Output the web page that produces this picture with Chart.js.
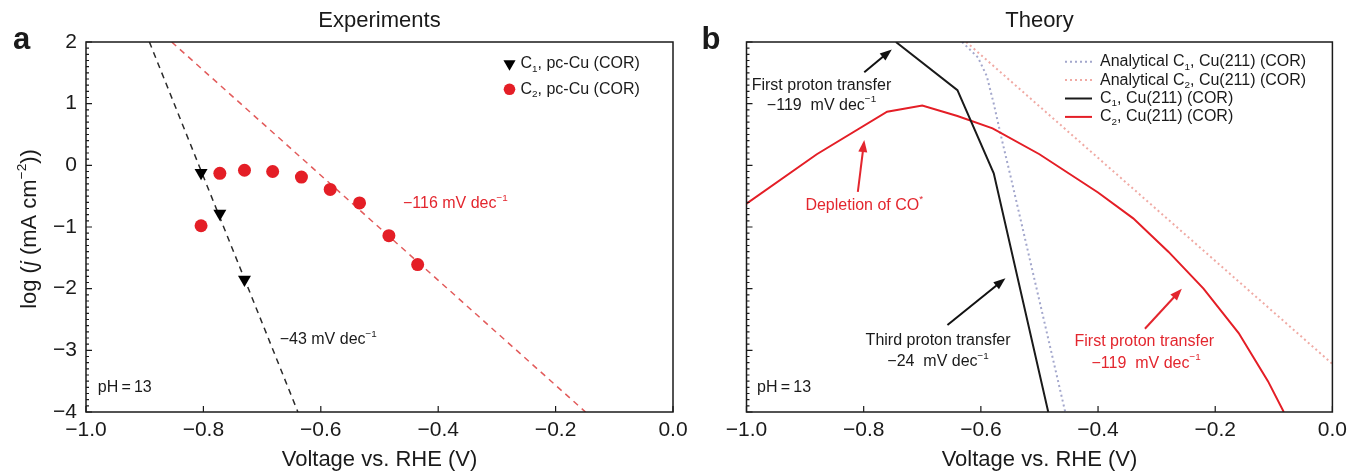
<!DOCTYPE html>
<html><head><meta charset="utf-8">
<script src="https://cdn.jsdelivr.net/npm/chart.js@4.4.1/dist/chart.umd.min.js"></script>
<style>
html,body{margin:0;padding:0;background:#fff;}
#wrap{position:relative;width:1353px;height:473px;overflow:hidden;background:#fff;}
canvas{position:absolute;top:0;}
#ca{left:0;} #cb{left:680px;}
</style></head><body>
<div id="wrap"><canvas id="ca" width="700" height="473"></canvas><canvas id="cb" width="673" height="473"></canvas></div>
<script>
// ---------- data ----------
const xTicks = [-1.0, -0.8, -0.6, -0.4, -0.2, 0.0];
const yTicks = [2, 1, 0, -1, -2, -3, -4];
const yMinorStep = 0.1;

// panel a (experiments)
const expC1V = [-0.804, -0.772, -0.730];
const expC1J = [-0.12, -0.78, -1.85];
const expC2V = [-0.804, -0.772, -0.730, -0.682, -0.633, -0.584, -0.534, -0.484, -0.435];
const expC2J = [-0.98, -0.13, -0.08, -0.10, -0.19, -0.39, -0.61, -1.14, -1.61];
const fitC1V = [-0.892, -0.639];
const fitC1J = [2, -4];
const fitC2V = [-0.854, -0.149];
const fitC2J = [2, -4];

// panel b (theory)
const thC1V = [-0.745, -0.640, -0.578, -0.485];
const thC1J = [2.0, 1.22, -0.13, -4.0];
const thC2V = [-1.0, -0.88, -0.76, -0.70, -0.64, -0.58, -0.50, -0.40, -0.34, -0.28, -0.22, -0.16, -0.11, -0.083];
const thC2J = [-0.62, 0.18, 0.87, 0.97, 0.80, 0.60, 0.18, -0.44, -0.86, -1.40, -2.00, -2.72, -3.50, -4.0];
const anC1V = [-0.632, -0.605, -0.590, -0.578, -0.565, -0.550, -0.456];
const anC1J = [2.0, 1.75, 1.45, 1.0, 0.45, -0.15, -4.0];
const anC2V = [-0.625, 0.0];
const anC2J = [2.0, -3.22];

// ---------- helpers ----------
const FAM = "'Liberation Sans', Arial, Helvetica, sans-serif";
const INK = '#1a1a1a';
const RED = '#e41e26';
const pts = (xs, ys) => xs.map((v, i) => ({x: v, y: ys[i]}));
const fmtX = v => (v < -1e-9 ? '\u2212' : '') + Math.abs(v).toFixed(1);
const fmtY = v => (v < 0 ? '\u2212' : '') + Math.abs(v);

function labelSegs(label) {
  const segs = [];
  let buf = '';
  for (const ch of label) {
    if (ch === '\u2081' || ch === '\u2082') {
      if (buf) segs.push([buf, 'n']);
      buf = '';
      segs.push([ch === '\u2081' ? '1' : '2', 'sub']);
    } else buf += ch;
  }
  if (buf) segs.push([buf, 'n']);
  return segs;
}

function drawRich(ctx, segs, x, y, size, color, align) {
  const parts = segs.map(([t, k]) => {
    const fs = (k === 'sup' || k === 'sub') ? size * 0.62 : size;
    const font = (k === 'i' ? 'italic ' : '') + fs + 'px ' + FAM;
    ctx.font = font;
    return {t, k, font, w: ctx.measureText(t).width};
  });
  const total = parts.reduce((s, p) => s + p.w, 0);
  let cx = align === 'center' ? x - total / 2 : align === 'right' ? x - total : x;
  ctx.fillStyle = color;
  ctx.textBaseline = 'middle';
  ctx.textAlign = 'left';
  for (const p of parts) {
    ctx.font = p.font;
    const dy = p.k === 'sup' ? -size * 0.36 : p.k === 'sub' ? size * 0.32 : 0;
    ctx.fillText(p.t, cx, y + dy);
    cx += p.w;
  }
}

function arrow(ctx, x1, y1, x2, y2, color) {
  const ang = Math.atan2(y2 - y1, x2 - x1), hl = 12, hw = 4.5;
  ctx.strokeStyle = color; ctx.lineWidth = 2;
  ctx.beginPath(); ctx.moveTo(x1, y1);
  ctx.lineTo(x2 - Math.cos(ang) * hl * 0.8, y2 - Math.sin(ang) * hl * 0.8); ctx.stroke();
  ctx.fillStyle = color; ctx.beginPath(); ctx.moveTo(x2, y2);
  ctx.lineTo(x2 - hl * Math.cos(ang) + hw * Math.sin(ang), y2 - hl * Math.sin(ang) - hw * Math.cos(ang));
  ctx.lineTo(x2 - hl * Math.cos(ang) - hw * Math.sin(ang), y2 - hl * Math.sin(ang) + hw * Math.cos(ang));
  ctx.closePath(); ctx.fill();
}

function panelPlugin(cfg) {
  return {
    id: 'panel',
    afterDatasetsDraw(chart) {
      const {ctx, chartArea: a, scales: {x, y}} = chart;
      ctx.save();
      ctx.strokeStyle = INK; ctx.lineWidth = 1.5;
      ctx.strokeRect(a.left, a.top, a.right - a.left, a.bottom - a.top);
      ctx.lineWidth = 1.2;
      ctx.beginPath();
      xTicks.forEach(v => { const px = x.getPixelForValue(v); ctx.moveTo(px, a.bottom); ctx.lineTo(px, a.bottom - 6); });
      const nMinor = Math.round((y.max - y.min) / yMinorStep);
      for (let k = 0; k <= nMinor; k++) {
        const v = y.min + k * yMinorStep;
        const major = k % 10 === 0;
        const py = y.getPixelForValue(v);
        ctx.moveTo(a.left, py); ctx.lineTo(a.left + (major ? 6 : 3), py);
      }
      ctx.stroke();
      cfg.arrows.forEach(ar => arrow(ctx, x.getPixelForValue(ar.from[0]), y.getPixelForValue(ar.from[1]),
        x.getPixelForValue(ar.to[0]), y.getPixelForValue(ar.to[1]), ar.color));
      cfg.notes.forEach(n => drawRich(ctx, n.segs, x.getPixelForValue(n.at[0]), y.getPixelForValue(n.at[1]), n.size || 16, n.color || INK, n.align || 'center'));
      ctx.restore();
    },
    afterDraw(chart) {
      const {ctx, chartArea: a} = chart;
      ctx.save();
      // title
      ctx.fillStyle = INK; ctx.font = '22px ' + FAM; ctx.textAlign = 'center'; ctx.textBaseline = 'middle';
      ctx.fillText(cfg.title, (a.left + a.right) / 2, 20.5);
      // panel letter
      ctx.font = 'bold 31px ' + FAM; ctx.textAlign = 'left'; ctx.textBaseline = 'alphabetic';
      ctx.fillText(cfg.letter, cfg.letterX, 48.5);
      // y title
      if (cfg.yTitle) {
        ctx.save();
        ctx.translate(30, (a.top + a.bottom) / 2 + 2);
        ctx.rotate(-Math.PI / 2);
        drawRich(ctx, cfg.yTitle, 0, 0, 22, INK, 'center');
        ctx.restore();
      }
      // legend
      const ds = chart.data.datasets;
      cfg.legend.items.forEach((idx, i) => {
        const d = ds[idx];
        const ly = cfg.legend.y0 + i * cfg.legend.dy;
        const lx = cfg.legend.x;
        if (cfg.legend.kind === 'marker') {
          ctx.fillStyle = d.pointBackgroundColor;
          ctx.beginPath();
          if (d.pointStyle === 'triangle') {
            const r = 7;
            ctx.moveTo(lx, ly + r); ctx.lineTo(lx - r * 0.866, ly - r * 0.5); ctx.lineTo(lx + r * 0.866, ly - r * 0.5);
            ctx.closePath();
          } else {
            ctx.arc(lx, ly, 5.8, 0, Math.PI * 2);
          }
          ctx.fill();
          drawRich(ctx, labelSegs(d.label), lx + 11, ly, 16, INK, 'left');
        } else {
          ctx.strokeStyle = d.borderColor; ctx.lineWidth = d.borderWidth;
          ctx.setLineDash(d.borderDash || []);
          ctx.beginPath(); ctx.moveTo(lx, ly); ctx.lineTo(lx + 27, ly); ctx.stroke();
          ctx.setLineDash([]);
          drawRich(ctx, labelSegs(d.label), lx + 35, ly, 16, INK, 'left');
        }
      });
      ctx.restore();
    }
  };
}

function scalesFor(yWidth, showYLabels) {
  return {
    x: {
      type: 'linear', min: -1, max: 0,
      afterFit(s) { s.height = 61; },
      afterBuildTicks(s) { s.ticks = xTicks.map(v => ({value: v})); },
      grid: {display: false, drawTicks: false}, border: {display: false},
      ticks: {autoSkip: false, maxRotation: 0, minRotation: 0, padding: 6, color: INK, font: {family: FAM, size: 21}, callback: v => fmtX(v)},
      title: {display: true, text: 'Voltage vs. RHE (V)', color: INK, font: {family: FAM, size: 22}, padding: {top: 0, bottom: 0}}
    },
    y: {
      type: 'linear', min: -4, max: 2,
      afterFit(s) { s.width = yWidth; },
      afterBuildTicks(s) { s.ticks = yTicks.map(v => ({value: v})); },
      grid: {display: false, drawTicks: false}, border: {display: false},
      ticks: {display: showYLabels, autoSkip: false, padding: 9, color: INK, font: {family: FAM, size: 21}, callback: v => fmtY(v)}
    }
  };
}

// ---------- panel a ----------
new Chart(document.getElementById('ca'), {
  type: 'scatter',
  data: {datasets: [
    {label: 'C\u2081, pc-Cu (COR)', data: pts(expC1V, expC1J), showLine: false, pointStyle: 'triangle', pointRotation: 180,
     pointRadius: 7.5, pointBackgroundColor: '#000', pointBorderColor: '#000', pointBorderWidth: 0},
    {label: 'C\u2082, pc-Cu (COR)', data: pts(expC2V, expC2J), showLine: false, pointStyle: 'circle',
     pointRadius: 6.5, pointBackgroundColor: RED, pointBorderColor: RED, pointBorderWidth: 0},
    {label: 'Tafel fit C\u2081 (\u221243 mV dec\u207B\u00B9)', data: pts(fitC1V, fitC1J), showLine: true, pointRadius: 0,
     borderColor: '#2b2b2b', borderWidth: 1.5, borderDash: [6, 5], fill: false},
    {label: 'Tafel fit C\u2082 (\u2212116 mV dec\u207B\u00B9)', data: pts(fitC2V, fitC2J), showLine: true, pointRadius: 0,
     borderColor: '#e25b5b', borderWidth: 1.5, borderDash: [6, 5], fill: false}
  ]},
  options: {
    responsive: false, animation: false, devicePixelRatio: 1,
    layout: {padding: {top: 42, right: 27, left: 0, bottom: 0}},
    plugins: {legend: {display: false}, tooltip: {enabled: false}},
    scales: scalesFor(86, true)
  },
  plugins: [panelPlugin({
    title: 'Experiments', letter: 'a', letterX: 13,
    yTitle: [['log (', 'n'], ['j', 'i'], [' (mA cm', 'n'], ['\u22122', 'sup'], ['))', 'n']],
    legend: {kind: 'marker', items: [0, 1], x: 509.5, y0: 63.8, dy: 25.5},
    arrows: [],
    notes: [
      {segs: [['\u2212116 mV dec', 'n'], ['\u22121', 'sup']], at: [-0.46, -0.62], color: '#e3262e', align: 'left'},
      {segs: [['\u221243 mV dec', 'n'], ['\u22121', 'sup']], at: [-0.670, -2.83], align: 'left'},
      {segs: [['pH\u2009=\u200913', 'n']], at: [-0.980, -3.61], align: 'left'}
    ]
  })]
});

// ---------- panel b ----------
new Chart(document.getElementById('cb'), {
  type: 'scatter',
  data: {datasets: [
    {label: 'Analytical C\u2081, Cu(211) (COR)', data: pts(anC1V, anC1J), showLine: true, pointRadius: 0, order: 1,
     borderColor: '#a3a7cc', borderWidth: 2, borderDash: [2, 3], fill: false},
    {label: 'Analytical C\u2082, Cu(211) (COR)', data: pts(anC2V, anC2J), showLine: true, pointRadius: 0, order: 1,
     borderColor: '#f0aaa4', borderWidth: 2, borderDash: [2, 3], fill: false},
    {label: 'C\u2081, Cu(211) (COR)', data: pts(thC1V, thC1J), showLine: true, pointRadius: 0, order: 0,
     borderColor: '#1a1a1a', borderWidth: 2, fill: false},
    {label: 'C\u2082, Cu(211) (COR)', data: pts(thC2V, thC2J), showLine: true, pointRadius: 0, order: 0,
     borderColor: RED, borderWidth: 2, fill: false}
  ]},
  options: {
    responsive: false, animation: false, devicePixelRatio: 1,
    layout: {padding: {top: 42, right: 18.5, left: 0, bottom: 0}},
    plugins: {legend: {display: false}, tooltip: {enabled: false}},
    scales: scalesFor(66.5, false)
  },
  plugins: [panelPlugin({
    title: 'Theory', letter: 'b', letterX: 21.5,
    yTitle: null,
    legend: {kind: 'line', items: [0, 1, 2, 3], x: 385, y0: 61.7, dy: 18.4},
    arrows: [
      {from: [-0.799, 1.51], to: [-0.752, 1.88], color: '#111'},
      {from: [-0.810, -0.43], to: [-0.799, 0.41], color: '#e3262e'},
      {from: [-0.657, -2.59], to: [-0.558, -1.83], color: '#111'},
      {from: [-0.320, -2.65], to: [-0.257, -2.00], color: '#e3262e'}
    ],
    notes: [
      {segs: [['First proton transfer', 'n']], at: [-0.872, 1.30]},
      {segs: [['\u2212119  mV dec', 'n'], ['\u22121', 'sup']], at: [-0.872, 0.97]},
      {segs: [['Depletion of CO', 'n'], ['*', 'sup']], at: [-0.799, -0.65], color: '#e3262e'},
      {segs: [['Third proton transfer', 'n']], at: [-0.673, -2.85]},
      {segs: [['\u221224  mV dec', 'n'], ['\u22121', 'sup']], at: [-0.673, -3.19]},
      {segs: [['First proton transfer', 'n']], at: [-0.321, -2.86], color: '#e3262e'},
      {segs: [['\u2212119  mV dec', 'n'], ['\u22121', 'sup']], at: [-0.318, -3.21], color: '#e3262e'},
      {segs: [['pH\u2009=\u200913', 'n']], at: [-0.982, -3.61], align: 'left'}
    ]
  })]
});
</script>
</body></html>
